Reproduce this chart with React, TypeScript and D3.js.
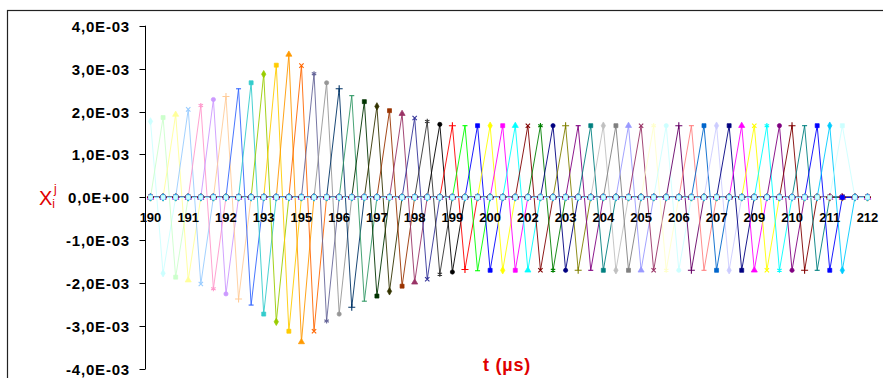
import React, { useEffect, useRef } from 'react';
import * as d3 from 'd3';

// category labels (one label every 3 samples)
const tickLabels = ['190', '191', '192', '193', '195', '196', '197', '198', '199', '200',
  '202', '203', '204', '205', '206', '207', '209', '210', '211', '212'];
const categoryCount = 58;

// series k: positive peak at sample k, negative peak at sample k+1 (units of 1E-3)
const peaks = [1.77, 1.86, 1.93, 2.05, 2.14, 2.28, 2.35, 2.53, 2.67, 2.87,
  3.08, 3.33, 3.07, 2.88, 2.67, 2.53, 2.37, 2.23, 2.12, 2.02,
  1.95, 1.85, 1.77, 1.70, 1.67, 1.67, 1.67, 1.67, 1.67, 1.67,
  1.67, 1.67, 1.67, 1.67, 1.67, 1.67, 1.67, 1.67, 1.67, 1.67,
  1.67, 1.67, 1.67, 1.67, 1.67, 1.67, 1.67, 1.67, 1.67, 1.67,
  1.67, 1.67, 1.67, 1.67, 1.67, 1.67];
const troughs = [-1.77, -1.86, -1.93, -2.02, -2.13, -2.25, -2.37, -2.51, -2.72, -2.90,
  -3.12, -3.37, -3.12, -2.88, -2.72, -2.56, -2.42, -2.30, -2.19, -2.07,
  -1.98, -1.91, -1.79, -1.74, -1.68, -1.71, -1.70, -1.70, -1.70, -1.70,
  -1.70, -1.70, -1.70, -1.70, -1.70, -1.70, -1.70, -1.70, -1.70, -1.70,
  -1.70, -1.70, -1.70, -1.70, -1.70, -1.70, -1.70, -1.70, -1.70, -1.70,
  -1.70, -1.70, -1.70, -1.70, -1.70, 0];

const seriesColors = ['#CCFFFF', '#CCFFCC', '#FFFF99', '#99CCFF', '#FF99CC', '#CC99FF', '#FFCC99', '#3366FF',
  '#33CCCC', '#99CC00', '#FFCC00', '#FF9900', '#FF6600', '#666699', '#969696', '#003366',
  '#339966', '#003300', '#333300', '#993300', '#993366', '#333399', '#333333', '#000000',
  '#FF0000', '#00FF00', '#0000FF', '#FFFF00', '#FF00FF', '#00FFFF', '#800000', '#008000',
  '#000080', '#808000', '#800080', '#008080', '#C0C0C0', '#808080', '#9999FF', '#993366',
  '#FFFFCC', '#CCFFFF', '#660066', '#FF8080', '#0066CC', '#CCCCFF', '#000080', '#FF00FF',
  '#FFFF00', '#00FFFF', '#800080', '#800000', '#008080', '#0000FF', '#00CCFF', '#CCFFFF'];

const yTicks = [4, 3, 2, 1, 0, -1, -2, -3, -4];
const yTickLabels = ['4,0E-03', '3,0E-03', '2,0E-03', '1,0E-03', '0,0E+00',
  '-1,0E-03', '-2,0E-03', '-3,0E-03', '-4,0E-03'];

const markerTypes = ['diamond', 'square', 'triangle', 'times', 'asterisk', 'circle', 'plus', 'dash', 'square'];

const App = () => {
  const ref = useRef<SVGSVGElement>(null);

  useEffect(() => {
    const width = 883;
    const height = 378;
    const svg = d3.select(ref.current);
    svg.selectAll('*').remove();
    svg.attr('width', width).attr('height', height);

    svg.append('rect')
      .attr('x', 7.5).attr('y', 10.5)
      .attr('width', 900).attr('height', 400)
      .attr('fill', '#fff').attr('stroke', '#222').attr('stroke-width', 1.2);

    const x = d3.scalePoint<number>()
      .domain(d3.range(categoryCount))
      .range([150.5, 867.5]);
    const y = d3.scaleLinear().domain([-4, 4]).range([369, 25.7]);

    const series = peaks.map((p, k) => ({
      k,
      color: seriesColors[k],
      marker: markerTypes[k % markerTypes.length],
      values: d3.range(categoryCount).map(i => (i === k ? p : i === k + 1 ? troughs[k] : 0)),
    }));

    // y axis
    const axisX = 145.5;
    const yAxis = svg.append('g');
    yAxis.append('line')
      .attr('x1', axisX).attr('x2', axisX)
      .attr('y1', y(4)).attr('y2', y(-4))
      .attr('stroke', '#000');
    yTicks.forEach((t, i) => {
      yAxis.append('line')
        .attr('x1', axisX - 6).attr('x2', axisX)
        .attr('y1', Math.round(y(t)) + 0.5).attr('y2', Math.round(y(t)) + 0.5)
        .attr('stroke', '#000');
      yAxis.append('text')
        .attr('x', 130).attr('y', y(t) + 6)
        .attr('text-anchor', 'end')
        .attr('font-family', 'Liberation Sans, Arial, sans-serif')
        .attr('font-weight', 'bold')
        .attr('font-size', 15)
        .attr('letter-spacing', 0.8)
        .attr('fill', '#000')
        .text(yTickLabels[i]);
    });

    // lines
    const lineGen = d3.line<number>()
      .x((d, i) => x(i) as number)
      .y(d => y(d));

    const plot = svg.append('g');
    series.forEach(s => {
      plot.append('path')
        .attr('d', lineGen(s.values))
        .attr('fill', 'none')
        .attr('stroke', s.color)
        .attr('stroke-width', 0.9);
    });

    // markers
    const symbolFor = (m: string) => {
      switch (m) {
        case 'diamond': return d3.symbol(d3.symbolDiamond, 16)();
        case 'square': return d3.symbol(d3.symbolSquare, 16)();
        case 'triangle': return d3.symbol(d3.symbolTriangle, 16)();
        case 'circle': return d3.symbol(d3.symbolCircle, 14)();
        case 'times': return d3.symbol(d3.symbolTimes, 14)();
        case 'asterisk': return d3.symbol(d3.symbolAsterisk, 18)();
        case 'plus': return d3.symbol(d3.symbolPlus, 18)();
        default: return 'M-2.5,0H2.5';
      }
    };
    const strokeOnly = (m: string) => ['times', 'asterisk', 'plus', 'dash'].includes(m);

    series.forEach(s => {
      plot.append('g')
        .selectAll('path')
        .data(s.values)
        .join('path')
        .attr('transform', (d, i) => `translate(${x(i)},${y(d)})`)
        .attr('d', symbolFor(s.marker))
        .attr('fill', strokeOnly(s.marker) ? 'none' : s.color)
        .attr('stroke', s.color)
        .attr('stroke-width', strokeOnly(s.marker) ? 1.1 : 0.7);
    });

    // category labels
    const xLabels = svg.append('g');
    tickLabels.forEach((lab, j) => {
      xLabels.append('text')
        .attr('x', x(j * 3) as number)
        .attr('y', 222)
        .attr('text-anchor', 'middle')
        .attr('font-family', 'Liberation Sans, Arial, sans-serif')
        .attr('font-weight', 'bold')
        .attr('font-size', 13)
        .attr('fill', '#000')
        .text(lab);
    });

    // axis titles
    const yTitle = svg.append('text')
      .attr('x', 39).attr('y', 205)
      .attr('font-family', 'Liberation Sans, Arial, sans-serif')
      .attr('font-size', 20)
      .attr('fill', '#e00000');
    yTitle.append('tspan').text('X');
    yTitle.append('tspan').attr('font-size', 12).attr('dy', 3).text('i');
    yTitle.append('tspan').attr('font-size', 12).attr('dx', -1).attr('dy', -15).text('j');

    svg.append('text')
      .attr('x', 507).attr('y', 371)
      .attr('text-anchor', 'middle')
      .attr('font-family', 'Liberation Sans, Arial, sans-serif')
      .attr('font-weight', 'bold')
      .attr('font-size', 18)
      .attr('letter-spacing', 0.8)
      .attr('fill', '#e00000')
      .text('t (µs)');
  }, []);

  return (
    <svg ref={ref} style={{ position: 'fixed', left: 0, top: 0, display: 'block' }} />
  );
};

export default App;
